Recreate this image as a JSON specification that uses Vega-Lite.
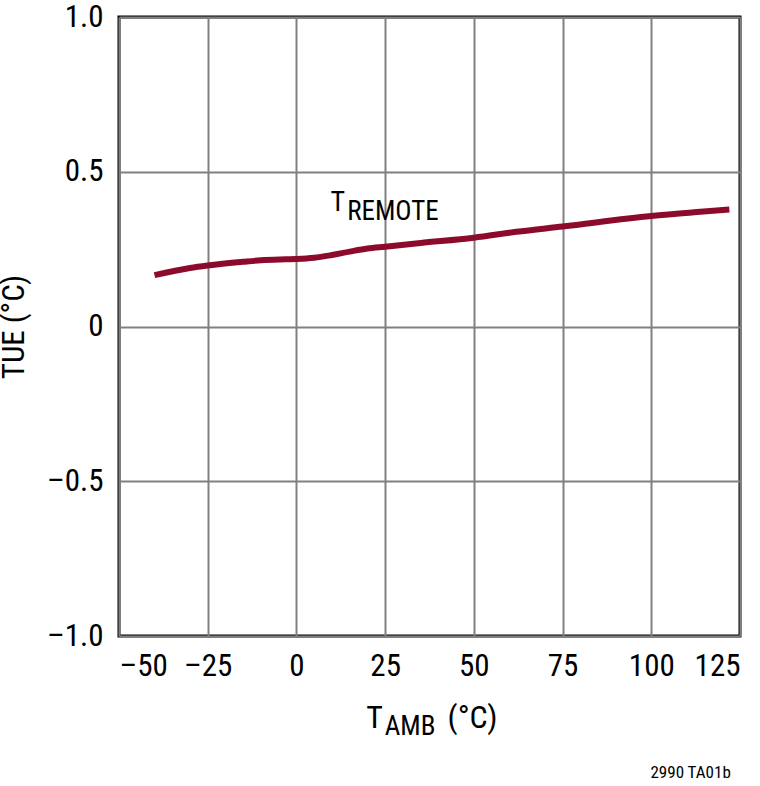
{
  "$schema": "https://vega.github.io/schema/vega-lite/v6.json",
  "autosize": {"type": "none"},
  "padding": {"left": 119, "top": 17, "right": 20, "bottom": 150},
  "width": 621,
  "height": 619,
  "background": "white",
  "config": {
    "font": "Roboto Condensed, Liberation Sans Narrow, Roboto, sans-serif",
    "view": {"stroke": "#000000", "strokeWidth": 3},
    "text": {"font": "Roboto Condensed, Liberation Sans Narrow, Roboto, sans-serif", "color": "#000000", "baseline": "alphabetic"},
    "axis": {
      "grid": true,
      "gridColor": "#808080",
      "gridWidth": 2,
      "gridOpacity": 1,
      "ticks": false,
      "domain": false,
      "labelFont": "Roboto Condensed, Liberation Sans Narrow, Roboto, sans-serif",
      "labelFontSize": 31,
      "labelColor": "#000000",
      "titleFont": "Roboto Condensed, Liberation Sans Narrow, Roboto, sans-serif",
      "titleFontSize": 31,
      "titleFontWeight": "normal",
      "titleColor": "#000000"
    }
  },
  "datasets": {
    "tue": [
      {"tamb": -40, "tue": 0.166},
      {"tamb": -30, "tue": 0.189},
      {"tamb": -25, "tue": 0.197},
      {"tamb": -15, "tue": 0.209},
      {"tamb": -10, "tue": 0.214},
      {"tamb": -3, "tue": 0.217},
      {"tamb": 0, "tue": 0.218},
      {"tamb": 5, "tue": 0.222},
      {"tamb": 10, "tue": 0.231},
      {"tamb": 15, "tue": 0.242},
      {"tamb": 20, "tue": 0.252},
      {"tamb": 25, "tue": 0.258},
      {"tamb": 35, "tue": 0.27},
      {"tamb": 50, "tue": 0.287},
      {"tamb": 62, "tue": 0.306},
      {"tamb": 75, "tue": 0.323},
      {"tamb": 100, "tue": 0.357},
      {"tamb": 112, "tue": 0.369},
      {"tamb": 122, "tue": 0.378}
    ],
    "remoteMain": [{"x": 13.68, "y": 0.3716, "label": "T"}],
    "remoteSub": [{"x": 14.3, "y": 0.3457, "label": "REMOTE"}],
    "ambMain": [{"x": 24.4, "y": -1.296, "label": "T"}],
    "ambSub": [{"x": 24.9, "y": -1.321, "label": "AMB"}],
    "ambUnit": [{"x": 42.6, "y": -1.296, "label": "(°C)"}],
    "note": [{"x": 122.4, "y": -1.46, "label": "2990 TA01b"}]
  },
  "encoding": {
    "x": {
      "field": "tamb",
      "type": "quantitative",
      "scale": {"domain": [-50, 125], "nice": false, "zero": false},
      "axis": {
        "values": [-50, -25, 0, 25, 50, 75, 100, 125],
        "title": null,
        "labelPadding": 15,
        "labelExpr": "datum.value < 0 ? '–' + format(-datum.value, 'd') : format(datum.value, 'd')"
      }
    },
    "y": {
      "field": "tue",
      "type": "quantitative",
      "scale": {"domain": [-1, 1], "nice": false, "zero": false},
      "axis": {
        "values": [-1, -0.5, 0, 0.5, 1],
        "title": "TUE (°C)",
        "titlePadding": 16,
        "labelPadding": 16,
        "labelExpr": "datum.value == 0 ? '0' : datum.value < 0 ? '–' + format(-datum.value, '.1f') : format(datum.value, '.1f')"
      }
    }
  },
  "layer": [
    {
      "data": {"name": "tue"},
      "mark": {"type": "line", "color": "#8c0a2c", "strokeWidth": 6, "interpolate": "monotone", "strokeCap": "butt"}
    },
    {
      "data": {"name": "remoteMain"},
      "mark": {"type": "text", "fontSize": 28, "align": "right", "clip": false},
      "encoding": {
        "x": {"field": "x", "type": "quantitative"},
        "y": {"field": "y", "type": "quantitative"},
        "text": {"field": "label"}
      }
    },
    {
      "data": {"name": "remoteSub"},
      "mark": {"type": "text", "fontSize": 27, "align": "left", "clip": false},
      "encoding": {
        "x": {"field": "x", "type": "quantitative"},
        "y": {"field": "y", "type": "quantitative"},
        "text": {"field": "label"}
      }
    },
    {
      "data": {"name": "ambMain"},
      "mark": {"type": "text", "fontSize": 32, "align": "right", "clip": false},
      "encoding": {
        "x": {"field": "x", "type": "quantitative"},
        "y": {"field": "y", "type": "quantitative"},
        "text": {"field": "label"}
      }
    },
    {
      "data": {"name": "ambSub"},
      "mark": {"type": "text", "fontSize": 27, "align": "left", "clip": false},
      "encoding": {
        "x": {"field": "x", "type": "quantitative"},
        "y": {"field": "y", "type": "quantitative"},
        "text": {"field": "label"}
      }
    },
    {
      "data": {"name": "ambUnit"},
      "mark": {"type": "text", "fontSize": 32, "align": "left", "clip": false},
      "encoding": {
        "x": {"field": "x", "type": "quantitative"},
        "y": {"field": "y", "type": "quantitative"},
        "text": {"field": "label"}
      }
    },
    {
      "data": {"name": "note"},
      "mark": {"type": "text", "fontSize": 17, "align": "right", "clip": false},
      "encoding": {
        "x": {"field": "x", "type": "quantitative"},
        "y": {"field": "y", "type": "quantitative"},
        "text": {"field": "label"}
      }
    }
  ]
}
